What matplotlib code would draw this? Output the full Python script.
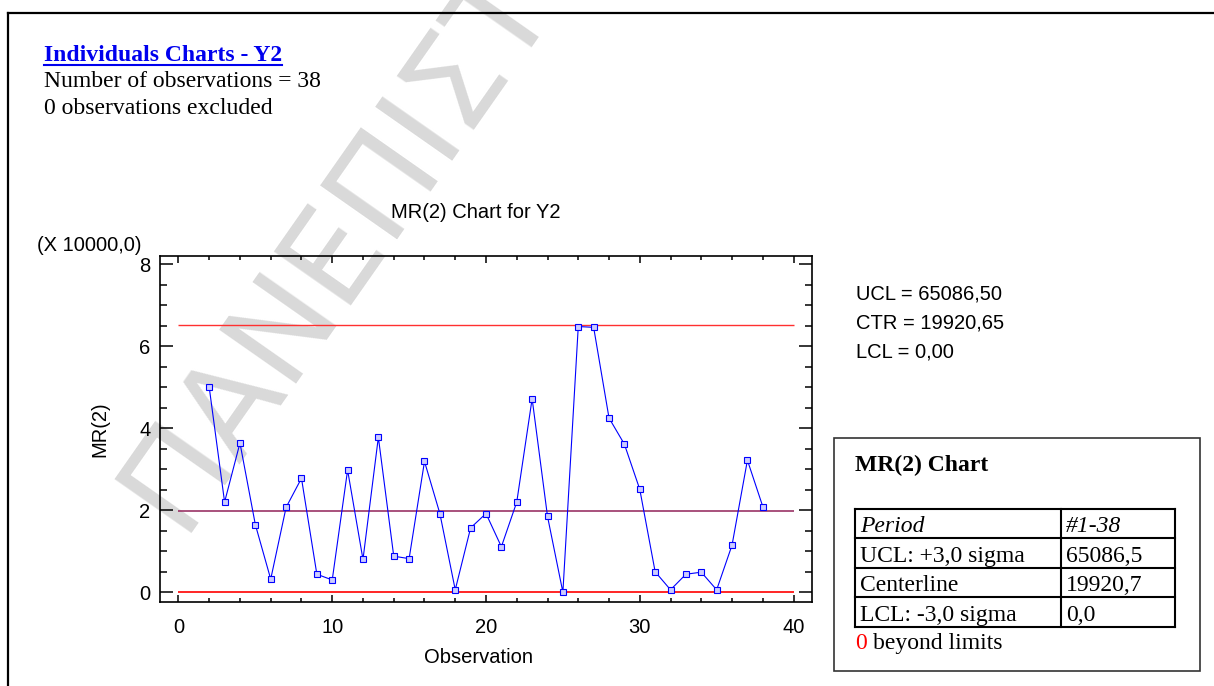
import matplotlib
matplotlib.use('Agg')
import matplotlib.pyplot as plt
from matplotlib.ticker import MultipleLocator
from matplotlib.lines import Line2D
from matplotlib.patches import Rectangle

# moving ranges (x 10000), observation 1 has no MR
obs = list(range(2, 39))
mr = [5.00, 2.20, 3.64, 1.65, 0.32, 2.07, 2.78, 0.44, 0.30, 2.98,
      0.80, 3.78, 0.88, 0.82, 3.19, 1.92, 0.06, 1.57, 1.92, 1.11,
      2.20, 4.72, 1.85, 0.00, 6.48, 6.46, 4.25, 3.61, 2.51, 0.50,
      0.06, 0.44, 0.49, 0.06, 1.15, 3.22, 2.09]
ucl = 6.508650
ctr = 1.992065
lcl = 0.0

limit_lines = ['UCL = 65086,50', 'CTR = 19920,65', 'LCL = 0,00']
table_rows = [('Period', '#1-38'),
              ('UCL: +3,0 sigma', '65086,5'),
              ('Centerline', '19920,7'),
              ('LCL: -3,0 sigma', '0,0')]

W, H = 1214, 686
plt.rcParams['font.family'] = ['Liberation Sans', 'DejaVu Sans']
serif = 'Liberation Serif'
fs = 14.5

fig = plt.figure(figsize=(W / 100, H / 100), dpi=100)


def fx(px):
    return px / W


def fy(py):
    return 1 - py / H


# watermark behind everything
fig.text(fx(180), fy(533), 'ΠΑΝΕΠΙΣΤ', rotation=55, rotation_mode='anchor',
         ha='left', va='baseline', fontsize=92, color='#d9d9d9',
         family='DejaVu Sans', zorder=-10)

# outer frame
fig.add_artist(Line2D([fx(8), fx(8)], [fy(13), 0], color='black', lw=1.6))
fig.add_artist(Line2D([fx(8), 1], [fy(13), fy(13)], color='black', lw=1.6))

# header
head = fig.text(fx(44), fy(61), 'Individuals Charts - Y2', family=serif,
                weight='bold', color='#0000ee', fontsize=17, va='baseline')
fig.text(fx(44), fy(87), 'Number of observations = 38', family=serif,
         fontsize=17, va='baseline')
fig.text(fx(44), fy(114), '0 observations excluded', family=serif,
         fontsize=17, va='baseline')

ax = fig.add_axes([fx(160), fy(601.7), (812 - 160) / W, (601.7 - 256) / H])
ax.set_facecolor('none')

ax.hlines(ucl, 0, 40, color='#ff3030', lw=1.0)
ax.hlines(ctr, 0, 40, color='#993366', lw=1.2)
ax.hlines(lcl, 0, 40, color='red', lw=1.2)
ax.plot(obs, mr, color='blue', lw=0.8, marker='s', ms=4.5, mfc='#ccccff',
        mec='blue', mew=0.8)

ax.set_xlim(-1.2, 41.2)
ax.set_ylim(-0.23, 8.2)
ax.set_xticks([0, 10, 20, 30, 40])
ax.set_yticks([0, 2, 4, 6, 8])
ax.xaxis.set_minor_locator(MultipleLocator(2))
ax.yaxis.set_minor_locator(MultipleLocator(0.5))
ax.tick_params(which='both', direction='in', top=True, right=True, width=1.1)
ax.tick_params(axis='x', which='major', length=5, labelsize=fs, pad=12)
ax.tick_params(axis='x', which='minor', length=3)
ax.tick_params(axis='y', which='major', length=9.5, labelsize=fs, pad=7)
ax.tick_params(axis='y', which='minor', length=5)
for s in ax.spines.values():
    s.set_linewidth(1.2)

ax.set_xlabel('Observation', fontsize=fs)
ax.xaxis.set_label_coords(0.489, -0.134)
ax.set_ylabel('MR(2)', fontsize=fs)
ax.yaxis.set_label_coords(-0.077, 0.5)

fig.text(fx(476), fy(218), 'MR(2) Chart for Y2', ha='center', va='baseline',
         fontsize=fs)
fig.text(fx(37), fy(251), '(X 10000,0)', va='baseline', fontsize=fs)

for i, t in enumerate(limit_lines):
    fig.text(fx(856), fy(300 + 28.5 * i), t, va='baseline', fontsize=fs)

# summary box
fig.add_artist(Rectangle((fx(834), fy(671)), fx(1200 - 834), (671 - 438) / H,
                         transform=fig.transFigure, fill=False,
                         edgecolor='#333333', lw=1.2))
fig.text(fx(855), fy(471), 'MR(2) Chart', family=serif, weight='bold',
         fontsize=17, va='baseline')

rows_y = [508.7, 537.7, 568.3, 597.3, 626.7]
col_x = [855, 1061, 1175]
for y in rows_y:
    fig.add_artist(Line2D([fx(col_x[0]), fx(col_x[2])], [fy(y), fy(y)],
                          color='black', lw=1.5))
for x in col_x:
    fig.add_artist(Line2D([fx(x), fx(x)], [fy(rows_y[0]), fy(rows_y[-1])],
                          color='black', lw=1.5))
for i, (lab, val) in enumerate(table_rows):
    style = 'italic' if i == 0 else 'normal'
    yb = rows_y[i + 1] - 6
    fig.text(fx(860), fy(yb), lab, family=serif, style=style, fontsize=17,
             va='baseline')
    fig.text(fx(1066), fy(yb), val, family=serif, style=style, fontsize=17,
             va='baseline')

fig.text(fx(855), fy(649), '0', family=serif, color='red', fontsize=17,
         va='baseline')
fig.text(fx(873), fy(649), 'beyond limits', family=serif, fontsize=17,
         va='baseline')

# underline the heading
fig.canvas.draw()
bb = head.get_window_extent()
uy = bb.y0 + 1
fig.add_artist(Line2D([bb.x0 / W, bb.x1 / W], [uy / H, uy / H],
                      color='#0000ee', lw=1.5))

fig.savefig('out.png', dpi=100)
